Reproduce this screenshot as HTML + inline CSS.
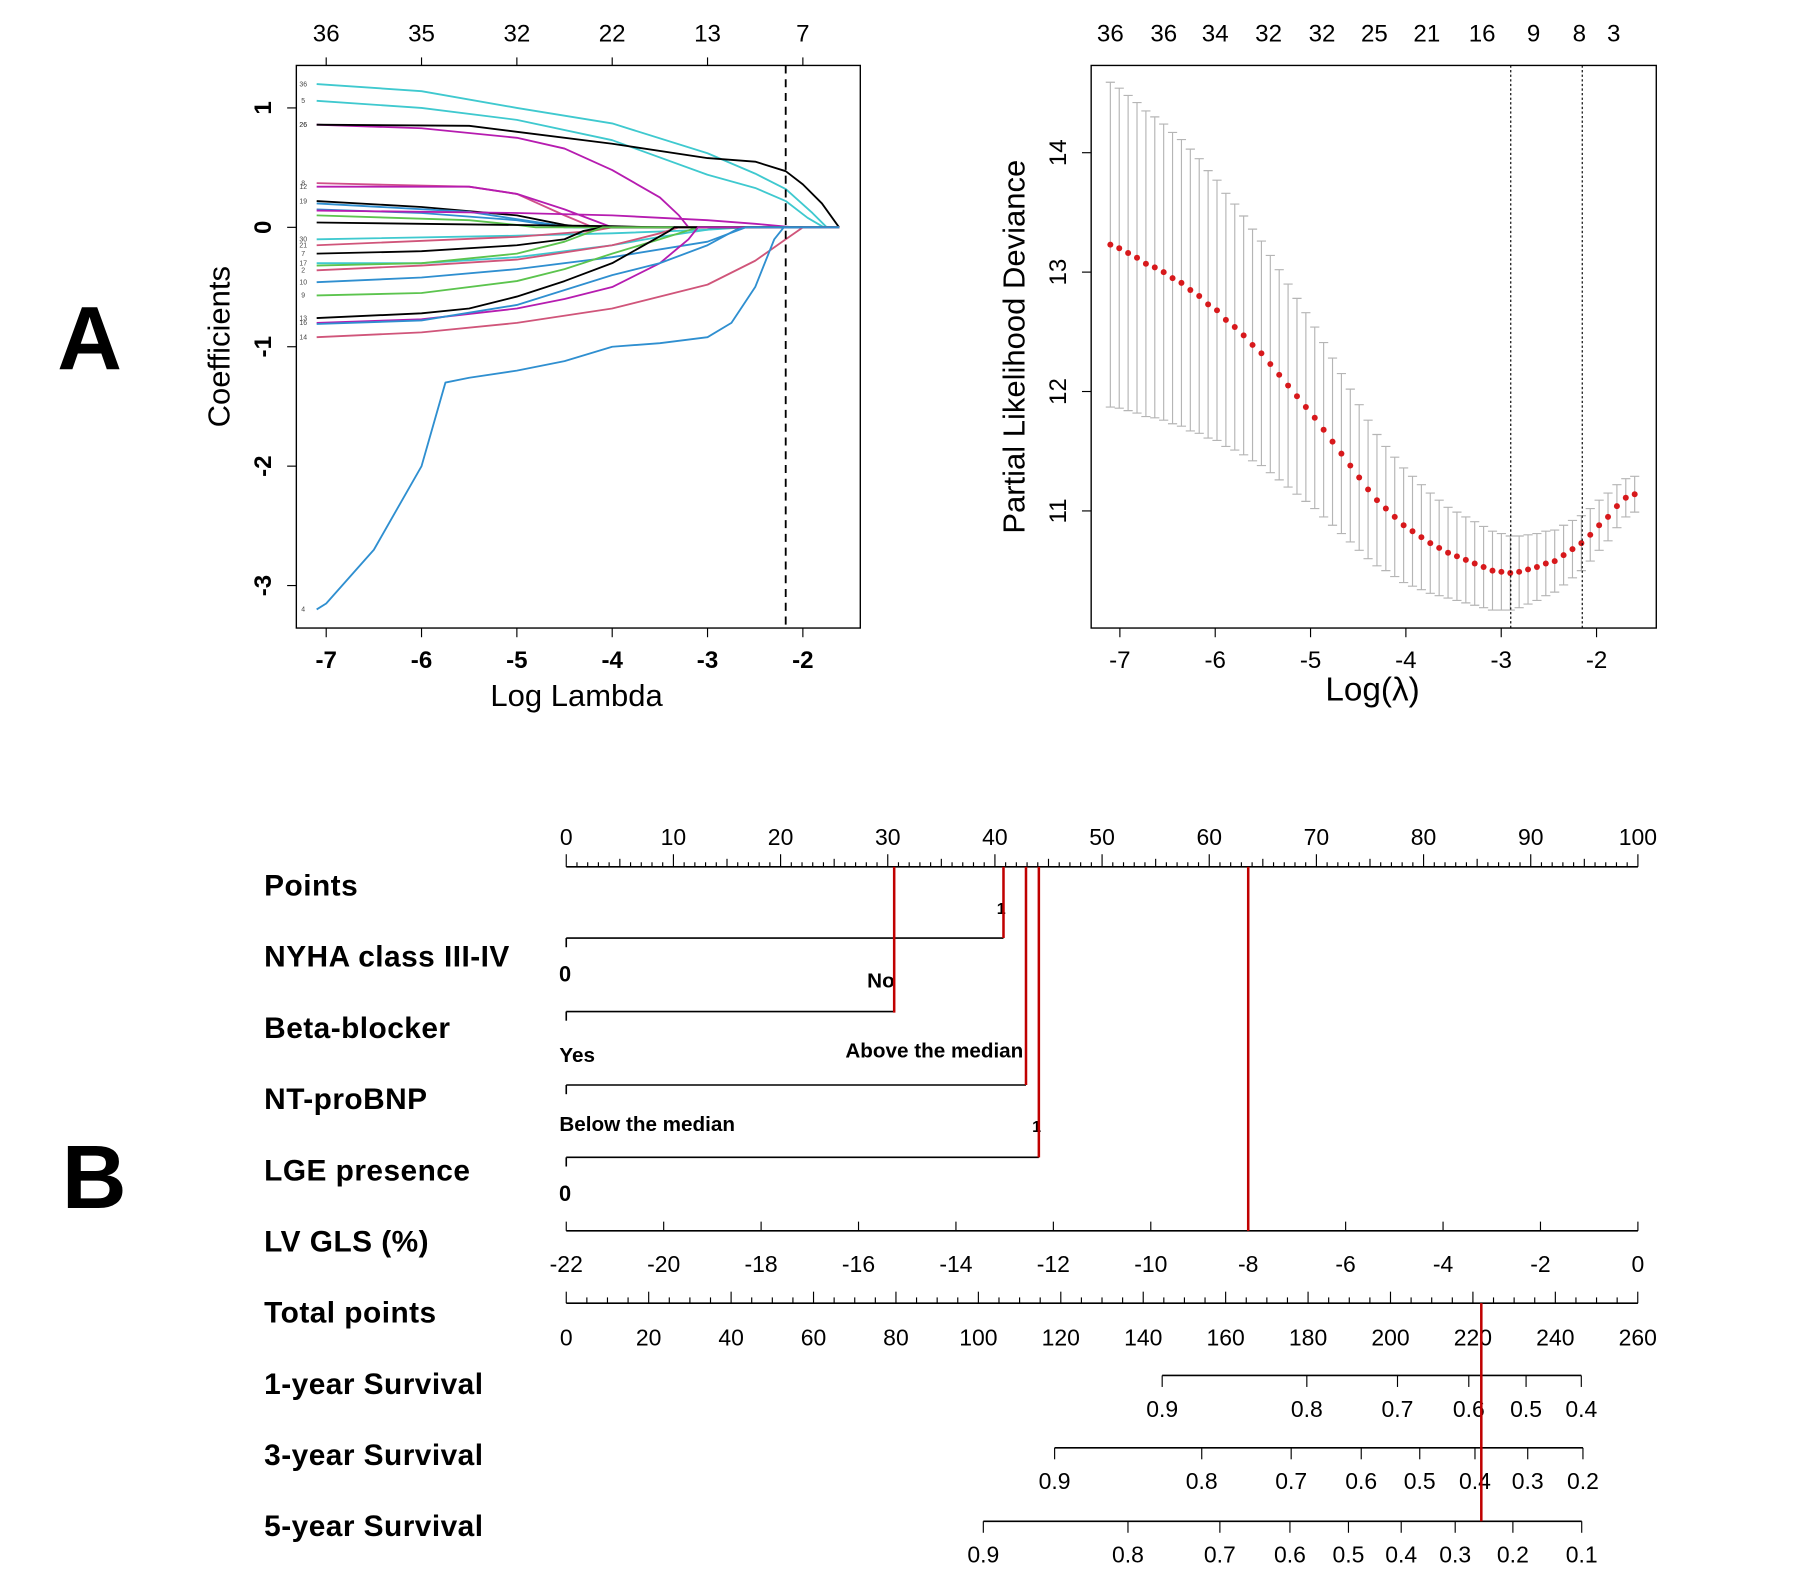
<!DOCTYPE html>
<html><head><meta charset="utf-8">
<style>
html,body{margin:0;padding:0;background:#fff;}
svg{display:block;}
text{font-family:"Liberation Sans",Arial,sans-serif;}
</style></head>
<body>
<svg id="fig" width="1801" height="1581" viewBox="0 0 1568 1377" preserveAspectRatio="none" xmlns="http://www.w3.org/2000/svg">
<rect width="1568" height="1377" fill="#fff"/>
<text x="78" y="322" font-size="78" font-weight="bold" text-anchor="middle">A</text>
<text x="82" y="1052" font-size="78" font-weight="bold" text-anchor="middle">B</text>
<g id="coef"></g>
<g id="cv"></g>
<g id="nomo"></g>
</svg>
<script>
// ---------- Panel A left: coefficient paths ----------
const coefXTicks = [-7,-6,-5,-4,-3,-2];
const coefTopLabels = ["36","35","32","22","13","7"];
const coefYTicks = [1,0,-1,-2,-3];
const coefCut = -2.18;
const s36x=[-7.1,-6,-5,-4,-3,-2.5,-2.18,-1.9,-1.75]; const s36y=[1.2,1.14,1.0,0.87,0.62,0.45,0.32,0.12,0];
const s5x=[-7.1,-6,-5,-4,-3,-2.5,-2.18,-1.95,-1.78]; const s5y=[1.06,1.0,0.9,0.73,0.44,0.33,0.22,0.08,0];
const s26ax=[-7.1,-5.5,-5,-4,-3,-2.5,-2.18,-2,-1.8,-1.62]; const s26ay=[0.86,0.85,0.8,0.7,0.58,0.55,0.47,0.36,0.2,0];
const s26bx=[-7.1,-6,-5,-4.5,-4,-3.5,-3.3,-3.2]; const s26by=[0.86,0.83,0.75,0.66,0.48,0.25,0.1,0];
const s8x=[-7.1,-5.5,-5,-4.5,-4.2]; const s8y=[0.37,0.34,0.28,0.1,0];
const s12x=[-7.1,-5.5,-5,-4.5,-4]; const s12y=[0.34,0.34,0.28,0.15,0];
const s19x=[-7.1,-6,-5,-4.5,-4.3]; const s19y=[0.22,0.17,0.1,0.02,0];
const s20x=[-7.1,-5.5,-4.6,-4.4]; const s20y=[0.2,0.13,0.02,0];
const s15x=[-7.1,-6,-5,-4.5]; const s15y=[0.15,0.12,0.06,0];
const s14mx=[-7.1,-5,-4,-3,-2.5,-2.1]; const s14my=[0.14,0.12,0.1,0.06,0.03,0];
const s10gx=[-7.1,-5.5,-5,-4.8]; const s10gy=[0.1,0.06,0.02,0];
const s4bx=[-7.1,-4,-3.5]; const s4by=[0.04,0.01,0];
const s30x=[-7.1,-5,-4,-3,-2.6]; const s30y=[-0.1,-0.07,-0.05,-0.02,0];
const s21x=[-7.1,-5,-4.2,-4]; const s21y=[-0.15,-0.08,-0.03,0];
const s7x=[-7.1,-6,-5,-4.5,-4.3,-4.1]; const s7y=[-0.22,-0.2,-0.15,-0.1,-0.03,0];
const s17cx=[-7.1,-6,-5,-4,-3.5,-3,-2.8]; const s17cy=[-0.3,-0.3,-0.25,-0.15,-0.08,-0.02,0];
const s17gx=[-7.1,-6,-5,-4.5,-4.1]; const s17gy=[-0.32,-0.3,-0.22,-0.12,0];
const s2x=[-7.1,-6,-5,-4,-3.5,-3.3]; const s2y=[-0.36,-0.32,-0.27,-0.15,-0.05,0];
const s10x=[-7.1,-6,-5,-4,-3,-2.6]; const s10y=[-0.46,-0.42,-0.35,-0.25,-0.12,0];
const s9x=[-7.1,-6,-5,-4.5,-4,-3.5,-3.1]; const s9y=[-0.57,-0.55,-0.45,-0.35,-0.22,-0.1,0];
const s13x=[-7.1,-6,-5.5,-5,-4.5,-4,-3.6,-3.4,-3.35]; const s13y=[-0.76,-0.72,-0.68,-0.58,-0.45,-0.3,-0.12,-0.03,0];
const s16mx=[-7.1,-6,-5,-4.5,-4,-3.5,-3.2,-3.1]; const s16my=[-0.8,-0.77,-0.68,-0.6,-0.5,-0.3,-0.1,0];
const s16bx=[-7.1,-6,-5,-4,-3.5,-3,-2.7,-2.6]; const s16by=[-0.81,-0.78,-0.65,-0.4,-0.3,-0.15,-0.02,0];
const s14x=[-7.1,-6,-5,-4,-3,-2.5,-2.18,-2]; const s14y=[-0.92,-0.88,-0.8,-0.68,-0.48,-0.28,-0.1,0];
const s4x=[-7.1,-7,-6.5,-6,-5.75,-5.5,-5,-4.5,-4,-3.5,-3,-2.75,-2.5,-2.3,-2.2]; const s4y=[-3.2,-3.15,-2.7,-2.0,-1.3,-1.26,-1.2,-1.12,-1.0,-0.97,-0.92,-0.8,-0.5,-0.1,0];
const coefSeries = [
 [s36x,s36y,"#3fc9cf","36"],[s5x,s5y,"#3fc9cf","5"],[s26bx,s26by,"#b61cb0","26"],[s26ax,s26ay,"#000","26"],
 [s8x,s8y,"#d04f8a","8"],[s12x,s12y,"#b61cb0","12"],[s19x,s19y,"#000","19"],[s20x,s20y,"#2f8fd0",""],
 [s15x,s15y,"#2f8fd0",""],[s14mx,s14my,"#b61cb0",""],[s10gx,s10gy,"#5cc44e",""],[s4bx,s4by,"#000",""],
 [s30x,s30y,"#3fc9cf","30"],[s21x,s21y,"#d0557a","21"],[s7x,s7y,"#000","7"],[s17cx,s17cy,"#3fc9cf","17"],
 [s17gx,s17gy,"#5cc44e",""],[s2x,s2y,"#d0557a","2"],[s10x,s10y,"#2f8fd0","10"],[s9x,s9y,"#5cc44e","9"],
 [s13x,s13y,"#000","13"],[s16mx,s16my,"#b61cb0","16"],[s16bx,s16by,"#2f8fd0",""],[s14x,s14y,"#d0557a","14"],[s4x,s4y,"#2f8fd0","4"]
];
// ---------- Panel A right: CV deviance ----------
const cvMean=[13.23,13.2,13.16,13.12,13.07,13.04,13.0,12.95,12.91,12.85,12.8,12.73,12.68,12.6,12.54,12.47,12.39,12.32,12.23,12.14,12.05,11.96,11.87,11.78,11.68,11.58,11.48,11.38,11.28,11.18,11.09,11.02,10.95,10.88,10.83,10.78,10.73,10.69,10.65,10.62,10.59,10.56,10.53,10.5,10.49,10.48,10.49,10.51,10.53,10.56,10.58,10.63,10.68,10.73,10.8,10.88,10.95,11.04,11.11,11.14];
const cvSd=[1.36,1.34,1.32,1.3,1.28,1.26,1.24,1.22,1.2,1.18,1.15,1.12,1.09,1.06,1.03,1.0,0.97,0.94,0.91,0.88,0.85,0.82,0.79,0.76,0.73,0.7,0.67,0.64,0.61,0.58,0.55,0.52,0.5,0.48,0.46,0.44,0.42,0.4,0.38,0.37,0.36,0.35,0.34,0.33,0.32,0.31,0.3,0.29,0.28,0.27,0.26,0.25,0.24,0.23,0.22,0.21,0.2,0.18,0.16,0.15];
const cvXStart=-7.1, cvXEnd=-1.6;
const cvXTicks=[-7,-6,-5,-4,-3,-2];
const cvYTicks=[11,12,13,14];
const cvTopVals=[-7.1,-6.54,-6.0,-5.44,-4.88,-4.33,-3.78,-3.2,-2.66,-2.18,-1.82];
const cvTopLabels=["36","36","34","32","32","25","21","16","9","8","3"];
const cvLines=[-2.9,-2.15];
// ---------- Panel B: nomogram ----------
const rowNames=["Points","NYHA class III-IV","Beta-blocker","NT-proBNP","LGE presence","LV GLS (%)","Total points","1-year Survival","3-year Survival","5-year Survival"];
const pointTicks=[0,10,20,30,40,50,60,70,80,90,100];
const nyhaPts=40.8, betaPts=30.6, ntPts=42.9, lgePts=44.1;
const glsTicks=[-22,-20,-18,-16,-14,-12,-10,-8,-6,-4,-2,0];
const glsValue=-8;
const totalTicks=[0,20,40,60,80,100,120,140,160,180,200,220,240,260];
const surv1Labels=["0.9","0.8","0.7","0.6","0.5","0.4"];
const surv1Pts=[144.6,179.7,201.7,219,232.9,246.3];
const surv3Labels=["0.9","0.8","0.7","0.6","0.5","0.4","0.3","0.2"];
const surv3Pts=[118.5,154.2,175.9,192.9,207.1,220.5,233.3,246.7];
const surv5Labels=["0.9","0.8","0.7","0.6","0.5","0.4","0.3","0.2","0.1"];
const surv5Pts=[101.2,136.3,158.6,175.6,189.8,202.6,215.7,229.7,246.4];

const NS="http://www.w3.org/2000/svg";
function mk(parent,tag,attrs,txt){const e=document.createElementNS(NS,tag);for(const k in attrs)e.setAttribute(k,attrs[k]);if(txt!==undefined)e.textContent=txt;parent.appendChild(e);return e;}

// Coefficient chart
(function(){
 const g=document.getElementById('coef');
 const X=v=>284+(v+7)*83, Y=v=>198-v*104;
 const box=mk(g,'rect',{x:258,y:57,width:491,height:490,fill:'none',stroke:'#000','stroke-width':1.2});
 
 coefSeries.forEach((s,i)=>{
  const d=s[0].map((v,j)=>(j?'L':'M')+X(v).toFixed(1)+' '+Y(s[1][j]).toFixed(1)).join(' ')+' L'+X(-1.62)+' '+Y(0);
  const p=mk(g,'path',{d:d,fill:'none',stroke:s[2],'stroke-width':1.6,'stroke-linejoin':'round'});
  
  
  if(s[3]){const t=mk(g,'text',{x:264,y:Y(s[1][0])+2,'font-size':6,'text-anchor':'middle',fill:'#444'},s[3]);
   }
 });
 const cut=mk(g,'line',{x1:X(coefCut),x2:X(coefCut),y1:57,y2:547,stroke:'#000','stroke-width':1.6,'stroke-dasharray':'7,5'});
 
 coefXTicks.forEach((v,i)=>{
  mk(g,'line',{x1:X(v),x2:X(v),y1:547,y2:555,stroke:'#000'});
  const t=mk(g,'text',{x:X(v),y:582,'font-size':21,'font-weight':'bold','text-anchor':'middle'},String(v));
  
  mk(g,'line',{x1:X(v),x2:X(v),y1:57,y2:50,stroke:'#000'});
  const t2=mk(g,'text',{x:X(v),y:36,'font-size':21,'text-anchor':'middle'},coefTopLabels[i]);
  
 });
 coefYTicks.forEach(v=>{
  mk(g,'line',{x1:258,x2:250,y1:Y(v),y2:Y(v),stroke:'#000'});
  const t=mk(g,'text',{x:236,y:Y(v),'font-size':21,'font-weight':'bold','text-anchor':'middle',transform:`rotate(-90 236 ${Y(v)})`},String(v));
  
 });
 const xt=mk(g,'text',{x:502,y:615,'font-size':27,'text-anchor':'middle'},'Log Lambda');
 
 const yt=mk(g,'text',{x:200,y:302,'font-size':27,'text-anchor':'middle',transform:'rotate(-90 200 302)'},'Coefficients');
 
})();

// CV chart
(function(){
 const g=document.getElementById('cv');
 const X=v=>975+(v+7)*83, Y=v=>445-(v-11)*104;
 const box=mk(g,'rect',{x:950,y:57,width:492,height:490,fill:'none',stroke:'#000','stroke-width':1.2});
 
 const n=cvMean.length;
 for(let i=0;i<n;i++){
  const xv=cvXStart+(cvXEnd-cvXStart)*i/(n-1);
  const x=X(xv), hi=Y(cvMean[i]+cvSd[i]), lo=Y(cvMean[i]-cvSd[i]);
  const eb=mk(g,'path',{d:`M${x} ${hi} L${x} ${lo} M${x-4} ${hi} L${x+4} ${hi} M${x-4} ${lo} L${x+4} ${lo}`,stroke:'#b5b5b5','stroke-width':1,fill:'none'});
  
 }
 for(let i=0;i<n;i++){
  const xv=cvXStart+(cvXEnd-cvXStart)*i/(n-1);
  const c=mk(g,'circle',{cx:X(xv),cy:Y(cvMean[i]),r:2.6,fill:'#d7191c'});
  
 }
 cvLines.forEach(v=>{const l=mk(g,'line',{x1:X(v),x2:X(v),y1:57,y2:547,stroke:'#000','stroke-width':1,'stroke-dasharray':'2,2'});
  });
 cvXTicks.forEach(v=>{
  mk(g,'line',{x1:X(v),x2:X(v),y1:547,y2:555,stroke:'#000'});
  const t=mk(g,'text',{x:X(v),y:582,'font-size':21,'text-anchor':'middle'},String(v));
  
 });
 cvTopVals.forEach((v,i)=>{const t=mk(g,'text',{x:X(v),y:36,'font-size':21,'text-anchor':'middle'},cvTopLabels[i]);
  });
 cvYTicks.forEach(v=>{
  mk(g,'line',{x1:950,x2:942,y1:Y(v),y2:Y(v),stroke:'#000'});
  const t=mk(g,'text',{x:928,y:Y(v),'font-size':21,'text-anchor':'middle',transform:`rotate(-90 928 ${Y(v)})`},String(v));
  
 });
 const xt=mk(g,'text',{x:1195,y:610,'font-size':29,'text-anchor':'middle'},'Log(λ)');
 
 const yt=mk(g,'text',{x:892,y:302,'font-size':27,'text-anchor':'middle',transform:'rotate(-90 892 302)'},'Partial Likelihood Deviance');
 
})();

// Nomogram
(function(){
 const g=document.getElementById('nomo');
 const P=v=>493+v*9.33, T=v=>493+v*3.588;
 const rowY=[771,833,895,957,1019,1081,1143,1205,1267,1329];
 rowNames.forEach((nm,i)=>{const t=mk(g,'text',{x:230,y:rowY[i]+9,'font-size':26,'font-weight':'bold','letter-spacing':'0.4'},nm);
  });
 const L=(x1,y1,x2,y2,c,w)=>mk(g,'line',{x1,y1,x2,y2,stroke:c||'#000','stroke-width':w||1.4});
 L(493,755,1426,755);
 for(let v=0;v<=100;v++){L(P(v),755,P(v),v%10===0?744:(v%5===0?748:751),'#000',1);}
 pointTicks.forEach(v=>{const t=mk(g,'text',{x:P(v),y:736,'font-size':20,'text-anchor':'middle'},String(v));
  });
 const bin=(y,pts)=>{L(493,y,P(pts),y);L(493,y,493,y+8);L(P(pts),y,P(pts),y-30);};
 bin(817,nyhaPts);bin(881,betaPts);bin(945,ntPts);bin(1008,lgePts);
 const lab=(x,y,s,a,fs)=>{const t=mk(g,'text',{x,y,'font-size':fs||18,'text-anchor':a||'middle','font-weight':'bold'},s);
  };
 lab(492,855,'0','middle',19);lab(P(nyhaPts)-2,796,'1','middle',14);
 lab(755,860,'No','start');lab(487,925,'Yes','start');
 lab(736,921,'Above the median','start');lab(487,985,'Below the median','start');
 lab(P(lgePts)-2,986,'1','middle',14);lab(492,1046,'0','middle',19);
 L(493,1072,1426,1072);
 glsTicks.forEach(v=>{const x=493+(v+22)/22*933;L(x,1072,x,1064,'#000',1);
  const t=mk(g,'text',{x,y:1108,'font-size':20,'text-anchor':'middle'},String(v));
  });
 L(493,1135,1426,1135);
 for(let v=0;v<=260;v+=5){L(T(v),1135,T(v),v%20===0?1125:1130,'#000',1);}
 totalTicks.forEach(v=>{const t=mk(g,'text',{x:T(v),y:1172,'font-size':20,'text-anchor':'middle'},String(v));
  });
 const surv=(y,pts,labels)=>{L(T(pts[0]),y,T(pts[pts.length-1]),y);
  pts.forEach((p,i)=>{L(T(p),y,T(p),y+10,'#000',1);
   const t=mk(g,'text',{x:T(p),y:y+36,'font-size':20,'text-anchor':'middle'},labels[i]);
   });};
 surv(1198,surv1Pts,surv1Labels);surv(1261,surv3Pts,surv3Labels);surv(1325,surv5Pts,surv5Labels);
 const glsPts=(glsValue+22)/22*100;
 const red=[[betaPts,882],[nyhaPts,817],[ntPts,945],[lgePts,1008],[glsPts,1072]];
 red.forEach(r=>{const l=L(P(r[0]),755,P(r[0]),r[1],'#c00000',2.2);
  });
 const tot=betaPts+nyhaPts+ntPts+lgePts+glsPts;
 const tl=L(T(tot),1135,T(tot),1325,'#c00000',2.2);
 
})();
</script>
</body></html>
